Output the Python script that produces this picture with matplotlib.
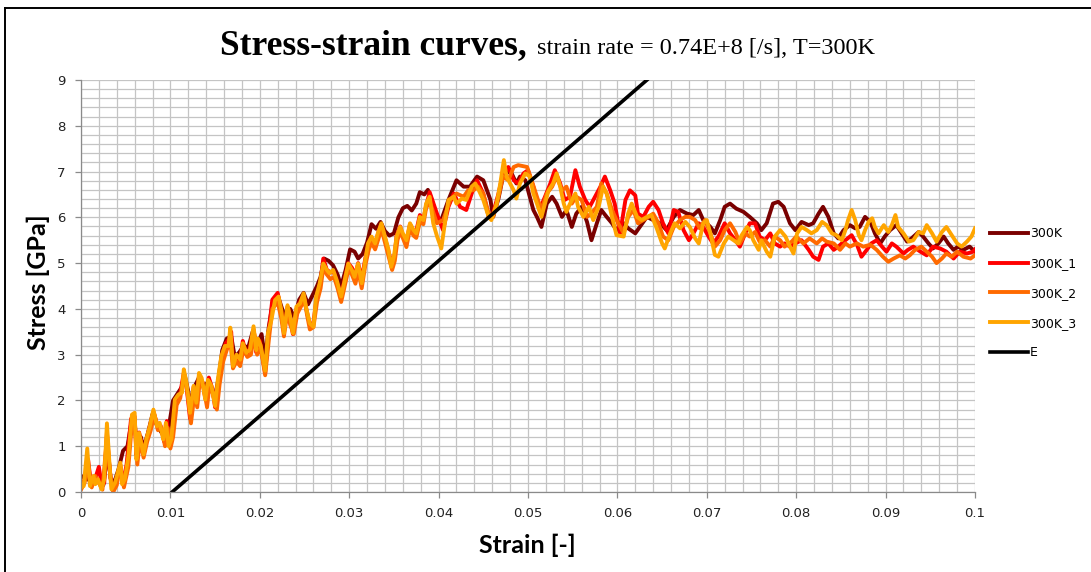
import matplotlib
matplotlib.use('Agg')
import matplotlib.pyplot as plt
from matplotlib.lines import Line2D
from matplotlib.ticker import MultipleLocator, FixedLocator, FixedFormatter

# (strain, stress [GPa])
curve_300K = [
    (0.0, 0.35), (0.0005, 0.30), (0.001, 0.25), (0.0015, 0.30), (0.002, 0.20), (0.0025, 0.15),
    (0.003, 0.90), (0.0033, 0.30), (0.0037, 0.20), (0.0042, 0.50), (0.0047, 0.90), (0.0052, 1.00),
    (0.0057, 1.60), (0.006, 1.50), (0.0063, 0.90), (0.0067, 1.20), (0.007, 0.95), (0.0075, 1.30),
    (0.008, 1.70), (0.0085, 1.45), (0.009, 1.30), (0.0095, 1.20), (0.0098, 1.40), (0.0103, 2.00),
    (0.0108, 2.15), (0.0113, 2.30), (0.0116, 2.55), (0.012, 2.20), (0.0123, 1.90), (0.0127, 2.30),
    (0.0132, 2.50), (0.0137, 2.30), (0.0142, 2.40), (0.0147, 2.20), (0.015, 2.10), (0.0154, 2.50),
    (0.0158, 3.10), (0.0163, 3.35), (0.0168, 3.40), (0.0172, 2.95), (0.0177, 3.05), (0.0182, 3.20),
    (0.0187, 3.15), (0.0192, 3.50), (0.0197, 3.20), (0.0202, 3.45), (0.0206, 2.90), (0.021, 3.60),
    (0.0215, 4.20), (0.022, 4.30), (0.0225, 4.00), (0.0229, 3.80), (0.0234, 4.00), (0.0239, 3.80),
    (0.0244, 4.20), (0.0249, 4.35), (0.0254, 4.10), (0.0259, 4.30), (0.0264, 4.50), (0.0268, 4.70),
    (0.0272, 5.10), (0.0277, 5.05), (0.0282, 4.95), (0.0287, 4.75), (0.0291, 4.50), (0.0296, 4.85),
    (0.0301, 5.30), (0.0306, 5.25), (0.031, 5.10), (0.0315, 5.20), (0.032, 5.45), (0.0325, 5.85),
    (0.033, 5.75), (0.0335, 5.90), (0.034, 5.70), (0.0345, 5.60), (0.035, 5.65), (0.0355, 6.00),
    (0.036, 6.20), (0.0365, 6.25), (0.037, 6.15), (0.0375, 6.30), (0.0379, 6.55), (0.0384, 6.50),
    (0.0388, 6.60), (0.0392, 6.40), (0.0398, 6.01), (0.0403, 5.94), (0.0411, 6.38), (0.042, 6.81),
    (0.0428, 6.67), (0.0435, 6.67), (0.0443, 6.89), (0.045, 6.81), (0.0458, 6.38), (0.0461, 6.01),
    (0.0467, 6.41), (0.0472, 6.89), (0.048, 7.03), (0.0487, 6.74), (0.0491, 6.89), (0.0497, 6.81),
    (0.0502, 6.45), (0.0506, 6.16), (0.051, 6.01), (0.0515, 5.79), (0.0521, 6.30), (0.0527, 6.45),
    (0.0532, 6.30), (0.0538, 6.01), (0.0543, 6.16), (0.0549, 5.79), (0.0554, 6.08), (0.056, 6.23),
    (0.0566, 5.90), (0.0571, 5.50), (0.0577, 5.87), (0.0582, 6.16), (0.0588, 6.01), (0.0594, 5.87),
    (0.0599, 5.72), (0.0607, 5.87), (0.0612, 5.76), (0.062, 5.65), (0.0625, 5.79), (0.0633, 6.01),
    (0.064, 5.94), (0.0648, 5.87), (0.0655, 5.72), (0.0663, 6.01), (0.067, 6.16), (0.0678, 6.08),
    (0.0685, 6.05), (0.0691, 6.16), (0.0696, 5.94), (0.0704, 5.79), (0.0709, 5.65), (0.0715, 5.94),
    (0.072, 6.23), (0.0726, 6.30), (0.0733, 6.19), (0.0741, 6.12), (0.0748, 6.01), (0.0756, 5.87),
    (0.0761, 5.72), (0.0767, 5.87), (0.0774, 6.30), (0.078, 6.34), (0.0786, 6.23), (0.0793, 5.87),
    (0.0799, 5.72), (0.0806, 5.90), (0.0814, 5.83), (0.0819, 5.87), (0.0825, 6.08), (0.083, 6.23),
    (0.0836, 6.01), (0.0842, 5.65), (0.0847, 5.54), (0.0853, 5.72), (0.086, 5.83), (0.0866, 5.76),
    (0.0871, 5.79), (0.0877, 6.01), (0.0883, 5.90), (0.0888, 5.65), (0.0894, 5.43), (0.0899, 5.58),
    (0.0905, 5.72), (0.0912, 5.83), (0.0918, 5.65), (0.0924, 5.47), (0.0929, 5.54), (0.0937, 5.68),
    (0.0942, 5.58), (0.0948, 5.43), (0.0953, 5.32), (0.0959, 5.43), (0.0965, 5.58), (0.097, 5.43),
    (0.0976, 5.29), (0.0981, 5.36), (0.0987, 5.29), (0.0994, 5.36), (0.1, 5.25),
]

curve_300K_1 = [
    (0.0, 0.15), (0.0005, 0.30), (0.0008, 0.70), (0.0011, 0.20), (0.0016, 0.30), (0.002, 0.55),
    (0.0023, 0.15), (0.0026, 0.20), (0.0029, 1.30), (0.0032, 0.50), (0.0035, 0.05), (0.004, 0.25),
    (0.0044, 0.55), (0.0047, 0.20), (0.0051, 0.60), (0.0056, 1.60), (0.006, 1.65), (0.0062, 0.80),
    (0.0065, 1.30), (0.007, 0.85), (0.0074, 1.20), (0.0078, 1.50), (0.0081, 1.75), (0.0085, 1.50),
    (0.0089, 1.45), (0.0093, 1.10), (0.0096, 1.55), (0.0099, 1.05), (0.0102, 1.30), (0.0106, 2.00),
    (0.011, 2.05), (0.0115, 2.60), (0.0118, 2.30), (0.0122, 1.60), (0.0126, 2.30), (0.013, 2.00),
    (0.0132, 2.55), (0.0136, 2.40), (0.0139, 2.05), (0.0143, 2.50), (0.0147, 2.25), (0.015, 1.85),
    (0.0154, 2.40), (0.0158, 3.00), (0.0162, 3.25), (0.0166, 3.35), (0.0168, 3.50), (0.017, 2.80),
    (0.0174, 2.95), (0.0178, 2.85), (0.0181, 3.30), (0.0185, 3.00), (0.0189, 3.15), (0.0193, 3.55),
    (0.0196, 3.05), (0.02, 3.30), (0.0206, 2.60), (0.021, 3.50), (0.0214, 4.20), (0.022, 4.35),
    (0.0224, 3.95), (0.0227, 3.50), (0.0231, 4.05), (0.0234, 3.80), (0.0237, 3.45), (0.0241, 4.00),
    (0.0245, 4.15), (0.0249, 4.30), (0.0252, 4.00), (0.0256, 3.65), (0.026, 3.70), (0.0264, 4.30),
    (0.0268, 4.60), (0.0271, 5.10), (0.0275, 4.85), (0.0279, 4.80), (0.0283, 4.80), (0.0286, 4.60),
    (0.0291, 4.30), (0.0295, 4.65), (0.0299, 5.00), (0.0303, 4.90), (0.0307, 4.75), (0.031, 5.00),
    (0.0314, 4.65), (0.0318, 5.10), (0.0322, 5.45), (0.0325, 5.55), (0.0329, 5.40), (0.0333, 5.70),
    (0.0336, 5.85), (0.034, 5.55), (0.0344, 5.25), (0.0348, 4.95), (0.0351, 5.20), (0.0353, 5.60),
    (0.0357, 5.80), (0.036, 5.60), (0.0364, 5.45), (0.0368, 5.85), (0.0372, 5.70), (0.0375, 5.70),
    (0.0379, 6.05), (0.0383, 5.95), (0.0386, 6.25), (0.039, 6.55), (0.0398, 6.09), (0.0405, 5.72),
    (0.0411, 6.23), (0.0417, 6.52), (0.0424, 6.23), (0.0431, 6.16), (0.0437, 6.52), (0.0443, 6.81),
    (0.045, 6.52), (0.0456, 6.01), (0.0461, 6.09), (0.0467, 6.52), (0.0472, 6.96), (0.0478, 7.10),
    (0.0484, 6.81), (0.0489, 6.74), (0.0495, 6.96), (0.05, 7.03), (0.0506, 6.67), (0.0513, 6.16),
    (0.0519, 6.45), (0.0525, 6.74), (0.053, 7.03), (0.0536, 6.74), (0.0541, 6.38), (0.0547, 6.45),
    (0.0553, 7.03), (0.0558, 6.67), (0.0564, 6.38), (0.0569, 6.23), (0.0575, 6.45), (0.0581, 6.67),
    (0.0586, 6.89), (0.0592, 6.59), (0.0597, 6.30), (0.0603, 5.65), (0.0609, 6.38), (0.0614, 6.59),
    (0.062, 6.48), (0.0623, 6.08), (0.0629, 6.01), (0.0635, 6.23), (0.064, 6.34), (0.0646, 6.16),
    (0.0651, 5.87), (0.0657, 5.65), (0.0663, 6.16), (0.0668, 6.12), (0.0674, 5.72), (0.068, 5.50),
    (0.0685, 5.65), (0.0691, 5.87), (0.0696, 5.79), (0.0702, 5.58), (0.0707, 5.43), (0.0713, 5.58),
    (0.072, 5.87), (0.0726, 5.65), (0.0732, 5.50), (0.0737, 5.36), (0.0743, 5.65), (0.0748, 5.87),
    (0.0754, 5.87), (0.0759, 5.58), (0.0765, 5.50), (0.0771, 5.65), (0.0776, 5.43), (0.0782, 5.36),
    (0.0787, 5.43), (0.0793, 5.36), (0.0799, 5.43), (0.0806, 5.50), (0.0814, 5.29), (0.0819, 5.14),
    (0.0825, 5.07), (0.083, 5.36), (0.0836, 5.43), (0.0842, 5.29), (0.0847, 5.36), (0.0855, 5.50),
    (0.0862, 5.61), (0.0868, 5.40), (0.0873, 5.14), (0.0879, 5.29), (0.0884, 5.43), (0.089, 5.50),
    (0.0896, 5.36), (0.0901, 5.25), (0.0907, 5.43), (0.0912, 5.36), (0.092, 5.21), (0.0925, 5.29),
    (0.0931, 5.36), (0.0939, 5.25), (0.0946, 5.17), (0.0953, 5.36), (0.0961, 5.32), (0.0968, 5.25),
    (0.0976, 5.10), (0.0983, 5.25), (0.0991, 5.21), (0.0998, 5.25), (0.1, 5.30),
]

curve_300K_2 = [
    (0.0, 0.05), (0.0004, 0.20), (0.0008, 0.60), (0.0012, 0.10), (0.0016, 0.35), (0.002, 0.20),
    (0.0024, 0.05), (0.0029, 1.20), (0.0033, 0.30), (0.0036, 0.00), (0.004, 0.15), (0.0044, 0.60),
    (0.0048, 0.10), (0.0053, 0.55), (0.0057, 1.50), (0.006, 1.60), (0.0063, 0.60), (0.0066, 1.15),
    (0.007, 0.75), (0.0074, 1.10), (0.0078, 1.35), (0.0082, 1.70), (0.0086, 1.35), (0.009, 1.40),
    (0.0094, 1.00), (0.0097, 1.40), (0.01, 0.95), (0.0103, 1.20), (0.0107, 1.90), (0.0111, 2.05),
    (0.0115, 2.55), (0.0119, 2.20), (0.0123, 1.50), (0.0127, 2.15), (0.013, 1.85), (0.0133, 2.45),
    (0.0137, 2.30), (0.0141, 1.85), (0.0144, 2.40), (0.0148, 2.10), (0.0152, 1.80), (0.0155, 2.35),
    (0.0159, 2.85), (0.0163, 3.10), (0.0167, 3.30), (0.017, 2.70), (0.0174, 2.85), (0.0178, 2.75),
    (0.0182, 3.15), (0.0186, 2.95), (0.019, 3.00), (0.0194, 3.45), (0.0197, 3.00), (0.0201, 3.15),
    (0.0206, 2.55), (0.021, 3.30), (0.0214, 4.00), (0.022, 4.15), (0.0224, 3.80), (0.0227, 3.40),
    (0.0231, 3.95), (0.0234, 3.65), (0.0238, 3.45), (0.0242, 3.90), (0.0246, 4.05), (0.025, 4.20),
    (0.0253, 3.85), (0.0256, 3.55), (0.026, 3.60), (0.0264, 4.15), (0.0268, 4.45), (0.0271, 4.90),
    (0.0275, 4.75), (0.0279, 4.65), (0.0283, 4.70), (0.0287, 4.45), (0.0291, 4.15), (0.0295, 4.50),
    (0.0299, 4.85), (0.0303, 4.75), (0.0307, 4.55), (0.031, 4.85), (0.0314, 4.45), (0.0318, 4.95),
    (0.0322, 5.30), (0.0325, 5.45), (0.0329, 5.30), (0.0333, 5.55), (0.0336, 5.75), (0.034, 5.45),
    (0.0344, 5.15), (0.0348, 4.85), (0.0351, 5.05), (0.0354, 5.50), (0.0357, 5.70), (0.036, 5.55),
    (0.0364, 5.35), (0.0368, 5.75), (0.0372, 5.60), (0.0375, 5.55), (0.0379, 5.90), (0.0383, 5.85),
    (0.0386, 6.20), (0.039, 6.35), (0.0398, 5.87), (0.0405, 5.94), (0.0413, 6.38), (0.042, 6.52),
    (0.0428, 6.45), (0.0433, 6.59), (0.0439, 6.59), (0.0444, 6.67), (0.045, 6.52), (0.0456, 6.09),
    (0.0461, 6.01), (0.0467, 6.45), (0.0472, 6.89), (0.0478, 6.81), (0.0484, 7.10), (0.0489, 7.14),
    (0.0499, 7.10), (0.0504, 6.81), (0.051, 6.45), (0.0515, 6.16), (0.0521, 6.52), (0.0527, 6.67),
    (0.0532, 6.89), (0.0538, 6.59), (0.0543, 6.67), (0.0549, 6.30), (0.0554, 6.45), (0.056, 6.38),
    (0.0566, 6.01), (0.0571, 6.09), (0.0577, 6.23), (0.0582, 6.74), (0.0588, 6.52), (0.0594, 6.16),
    (0.0599, 5.94), (0.0607, 5.65), (0.0612, 6.01), (0.0618, 6.16), (0.0623, 5.87), (0.0629, 5.94),
    (0.0635, 6.01), (0.064, 6.08), (0.0646, 5.87), (0.0651, 5.58), (0.0657, 5.50), (0.0663, 5.79),
    (0.067, 5.94), (0.0676, 6.01), (0.0681, 6.01), (0.0687, 5.94), (0.0692, 5.76), (0.0698, 5.94),
    (0.0704, 5.65), (0.0709, 5.36), (0.0715, 5.50), (0.072, 5.72), (0.0726, 5.87), (0.0732, 5.68),
    (0.0737, 5.43), (0.0743, 5.65), (0.0748, 5.58), (0.0754, 5.68), (0.0759, 5.47), (0.0765, 5.50),
    (0.0771, 5.36), (0.0776, 5.58), (0.0782, 5.50), (0.0787, 5.36), (0.0795, 5.47), (0.08, 5.58),
    (0.0808, 5.43), (0.0815, 5.54), (0.0823, 5.43), (0.0829, 5.54), (0.0834, 5.47), (0.0842, 5.43),
    (0.0849, 5.29), (0.0855, 5.43), (0.086, 5.36), (0.0868, 5.43), (0.0875, 5.36), (0.0883, 5.40),
    (0.089, 5.29), (0.0897, 5.14), (0.0903, 5.03), (0.0909, 5.10), (0.0916, 5.17), (0.0922, 5.10),
    (0.0927, 5.17), (0.0933, 5.29), (0.094, 5.36), (0.0946, 5.25), (0.0952, 5.14), (0.0957, 5.00),
    (0.0963, 5.10), (0.0968, 5.21), (0.0974, 5.14), (0.098, 5.25), (0.0987, 5.14), (0.0995, 5.10),
    (0.1, 5.17),
]

curve_300K_3 = [
    (0.0, 0.10), (0.0003, 0.13), (0.0007, 0.95), (0.001, 0.13), (0.0014, 0.35), (0.0016, 0.17),
    (0.0019, 0.28), (0.0023, 0.06), (0.0026, 0.28), (0.0029, 1.50), (0.0032, 0.57), (0.0034, 0.06),
    (0.0038, 0.20), (0.0044, 0.64), (0.0046, 0.17), (0.0049, 0.28), (0.0053, 0.79), (0.0057, 1.69),
    (0.006, 1.73), (0.0062, 0.71), (0.0065, 1.29), (0.007, 0.82), (0.0073, 1.15), (0.0077, 1.44),
    (0.0081, 1.80), (0.0085, 1.44), (0.0088, 1.51), (0.0092, 1.15), (0.0095, 1.51), (0.0098, 1.00),
    (0.0101, 1.15), (0.0105, 2.02), (0.0109, 2.13), (0.0113, 2.17), (0.0115, 2.68), (0.0118, 2.39),
    (0.0122, 1.73), (0.0126, 2.32), (0.0129, 1.95), (0.0132, 2.60), (0.0135, 2.49), (0.0139, 2.02),
    (0.0142, 2.45), (0.0146, 2.31), (0.015, 1.88), (0.0153, 2.45), (0.0157, 2.97), (0.0161, 3.19),
    (0.0165, 3.19), (0.0167, 3.59), (0.017, 2.75), (0.0174, 3.00), (0.0178, 2.89), (0.0181, 3.25),
    (0.0185, 3.04), (0.0189, 3.11), (0.0193, 3.62), (0.0196, 3.10), (0.0198, 3.35), (0.0201, 3.20),
    (0.0206, 2.65), (0.0209, 3.47), (0.0213, 3.76), (0.0217, 4.19), (0.0221, 4.27), (0.0224, 3.98),
    (0.0227, 3.47), (0.0231, 4.08), (0.0234, 3.83), (0.0237, 3.47), (0.0241, 4.05), (0.0245, 4.12),
    (0.0249, 4.34), (0.0252, 4.01), (0.0256, 3.68), (0.026, 3.61), (0.0263, 4.27), (0.0267, 4.56),
    (0.0271, 4.99), (0.0275, 4.85), (0.0278, 4.78), (0.0282, 4.85), (0.0286, 4.63), (0.0291, 4.27),
    (0.0295, 4.63), (0.0299, 4.99), (0.0303, 4.85), (0.0306, 4.70), (0.031, 4.99), (0.0314, 4.56),
    (0.0318, 5.07), (0.0321, 5.43), (0.0325, 5.58), (0.0329, 5.43), (0.0332, 5.65), (0.0336, 5.87),
    (0.034, 5.58), (0.0344, 5.29), (0.0347, 4.92), (0.035, 5.14), (0.0353, 5.58), (0.0357, 5.79),
    (0.036, 5.65), (0.0364, 5.50), (0.0368, 5.87), (0.0372, 5.72), (0.0375, 5.65), (0.0379, 6.01),
    (0.0383, 5.94), (0.0386, 6.30), (0.039, 6.45), (0.0394, 5.87), (0.0398, 5.60), (0.0403, 5.32),
    (0.0407, 5.87), (0.0411, 6.38), (0.0417, 6.45), (0.042, 6.30), (0.0426, 6.41), (0.0431, 6.38),
    (0.0437, 6.67), (0.0441, 6.74), (0.0445, 6.59), (0.045, 6.38), (0.0456, 6.01), (0.0459, 5.94),
    (0.0465, 6.30), (0.0469, 6.74), (0.0473, 7.25), (0.0476, 6.89), (0.048, 6.74), (0.0484, 6.59),
    (0.0487, 6.41), (0.0491, 6.74), (0.0497, 6.96), (0.0502, 6.89), (0.0506, 6.52), (0.051, 6.30),
    (0.0515, 6.01), (0.0519, 6.30), (0.0523, 6.59), (0.0528, 6.74), (0.0532, 6.96), (0.0536, 6.67),
    (0.054, 6.30), (0.0543, 6.12), (0.0547, 6.30), (0.0553, 6.52), (0.0556, 6.23), (0.0562, 6.01),
    (0.0568, 6.23), (0.0573, 5.94), (0.0579, 6.23), (0.0584, 6.67), (0.0588, 6.52), (0.0594, 6.01),
    (0.0599, 5.61), (0.0607, 5.58), (0.0612, 6.08), (0.0616, 6.30), (0.0622, 6.01), (0.0627, 5.94),
    (0.0633, 6.01), (0.0638, 6.05), (0.0644, 5.76), (0.065, 5.43), (0.0653, 5.32), (0.0659, 5.65),
    (0.0664, 5.87), (0.067, 5.76), (0.0676, 5.90), (0.0681, 5.79), (0.0687, 5.54), (0.0691, 5.43),
    (0.0696, 5.87), (0.07, 5.94), (0.0704, 5.65), (0.0709, 5.18), (0.0713, 5.14), (0.0719, 5.43),
    (0.0724, 5.58), (0.073, 5.50), (0.0735, 5.43), (0.0739, 5.61), (0.0745, 5.79), (0.0748, 5.72),
    (0.0752, 5.50), (0.0758, 5.29), (0.0761, 5.50), (0.0767, 5.25), (0.0771, 5.14), (0.0776, 5.58),
    (0.0782, 5.72), (0.0788, 5.58), (0.0793, 5.36), (0.0797, 5.21), (0.0801, 5.65), (0.0806, 5.79),
    (0.0812, 5.72), (0.0817, 5.65), (0.0823, 5.72), (0.0829, 5.90), (0.0834, 5.83), (0.084, 5.65),
    (0.0845, 5.61), (0.0851, 5.50), (0.0855, 5.72), (0.0858, 5.94), (0.0862, 6.16), (0.0866, 5.94),
    (0.087, 5.61), (0.0873, 5.50), (0.0877, 5.72), (0.0881, 5.90), (0.0885, 5.98), (0.0888, 5.79),
    (0.0892, 5.65), (0.0898, 5.83), (0.0903, 5.68), (0.0907, 5.83), (0.0911, 6.05), (0.0914, 5.79),
    (0.092, 5.65), (0.0926, 5.47), (0.0931, 5.50), (0.0937, 5.68), (0.0942, 5.65), (0.0946, 5.83),
    (0.0952, 5.65), (0.0957, 5.47), (0.0963, 5.68), (0.0968, 5.79), (0.0974, 5.61), (0.098, 5.43),
    (0.0985, 5.36), (0.0991, 5.47), (0.0996, 5.58), (0.1, 5.76),
]

# elastic line E
e_strain = [0.0102, 0.0633]
e_stress = [0.0, 9.0]

series_names = ['300K', '300K_1', '300K_2', '300K_3']
series_colors = ['#7a0000', '#ff0000', '#ff6a00', '#ffa500']

x_ticks = [0, 0.01, 0.02, 0.03, 0.04, 0.05, 0.06, 0.07, 0.08, 0.09, 0.1]
x_tick_labels = ['0', '0.01', '0.02', '0.03', '0.04', '0.05', '0.06', '0.07', '0.08', '0.09', '0.1']
y_ticks = [0, 1, 2, 3, 4, 5, 6, 7, 8, 9]

W, H = 1091, 572
fig = plt.figure(figsize=(W / 100, H / 100), dpi=100)
ax = fig.add_axes([81 / W, 1 - 492 / H, 894 / W, 412 / H])

curves = [curve_300K, curve_300K_1, curve_300K_2, curve_300K_3]
for pts, name, col in zip(curves, series_names, series_colors):
    xs = [p[0] for p in pts]
    ys = [p[1] for p in pts]
    ax.plot(xs, ys, color=col, lw=2.8, label=name, solid_joinstyle='round')
ax.plot(e_strain, e_stress, color='black', lw=2.6, label='E')

ax.set_xlim(0, 0.1)
ax.set_ylim(0, 9)
ax.xaxis.set_major_locator(FixedLocator(x_ticks))
ax.xaxis.set_major_formatter(FixedFormatter(x_tick_labels))
ax.yaxis.set_major_locator(FixedLocator(y_ticks))
ax.xaxis.set_minor_locator(MultipleLocator(0.002))
ax.yaxis.set_minor_locator(MultipleLocator(0.2))
ax.grid(True, which='both', color='#c4c4c4', lw=0.9)
ax.set_axisbelow(True)

for s in ['top', 'right']:
    ax.spines[s].set_visible(False)
for s in ['left', 'bottom']:
    ax.spines[s].set_color('#8a8a8a')
    ax.spines[s].set_linewidth(0.9)
ax.tick_params(which='major', length=4, width=0.9, color='#8a8a8a', labelsize=9.5, labelcolor='#222222')
ax.tick_params(axis='x', pad=7)
ax.tick_params(axis='y', pad=7)
ax.tick_params(which='minor', length=0)

fig.text(527 / W, 1 - 545 / H, 'Strain [-]', fontsize=18, fontweight='bold', family='Lato',
         ha='center', va='center')
fig.text(38 / W, 1 - 282 / H, 'Stress [GPa]', fontsize=18, fontweight='bold', family='Lato',
         ha='center', va='center', rotation=90)

fig.text(220 / W, 1 - 54 / H, 'Stress-strain curves,', fontsize=25.5, fontweight='bold',
         family='Liberation Serif', va='baseline', ha='left')
fig.text(537 / W, 1 - 54 / H, 'strain rate = 0.74E+8 [/s], T=300K', fontsize=17.5,
         family='Liberation Serif', va='baseline', ha='left')

fig.legend(loc='upper left', bbox_to_anchor=(990 / W, 1 - 227 / H), frameon=False,
           fontsize=9, handlelength=3.0, handletextpad=0.2, labelspacing=1.35,
           borderpad=0, borderaxespad=0)

# outer chart border
fig.add_artist(Line2D([5 / W, 1], [1 - 8 / H, 1 - 8 / H], transform=fig.transFigure, color='black', lw=1.4))
fig.add_artist(Line2D([5 / W, 5 / W], [0, 1 - 8 / H], transform=fig.transFigure, color='black', lw=1.4))

fig.savefig('out.png', dpi=100)
